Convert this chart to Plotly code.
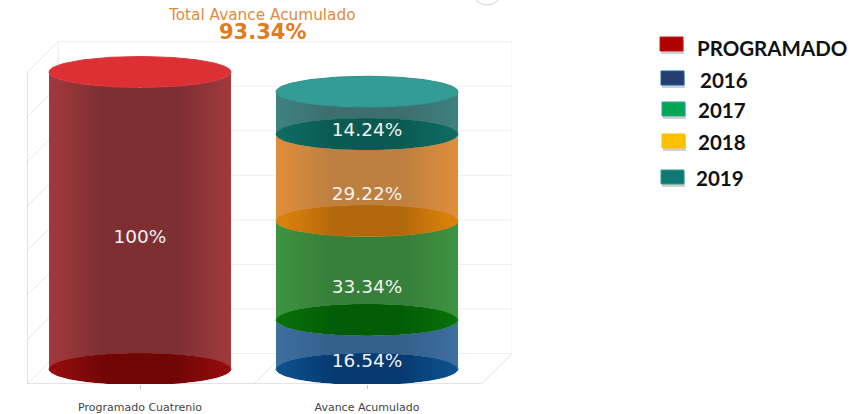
import numpy as np
import plotly.graph_objects as go

# ---- data ----
categories = ["Programado Cuatrenio", "Avance Acumulado"]
total_label = "Total Avance Acumulado"
total_value = "93.34%"
programado = [100.0]
avance_years = ["2016", "2017", "2018", "2019"]
avance_values = [16.54, 33.34, 29.22, 14.24]
avance_labels = ["16.54%", "33.34%", "29.22%", "14.24%"]
grid_values = [0, 15, 30, 45, 60, 75, 90, 105]
legend_names = ["PROGRAMADO", "2016", "2017", "2018", "2019"]
legend_fill = ["#B00000", "#243F6B", "#00A651", "#FFC000", "#0F7872"]
legend_edge = ["#C21A1A", "#0E62B8", "#2FA59A", "#FFC000", "#2F9A94"]

# ---- styles / geometry ----
PX_L, PX_R, PX_T, PX_B = 27, 512, 39, 384
W, H = 863, 414
CX0, UNIT_X, Y0, UNIT_Y = 140.0, 227.0, 369.0, 2.97
xr = [(PX_L - CX0) / UNIT_X, (PX_R - CX0) / UNIT_X]
yr = [(Y0 - PX_B) / UNIT_Y, (Y0 - PX_T) / UNIT_Y]
RX = 91.0 / UNIT_X
RY = 15.5 / UNIT_Y
DX, DY = 15.5 / UNIT_X, 15.5 / UNIT_Y
LABEL_DROP = 18.0 / UNIT_Y


def hex2rgb(c):
    return np.array([int(c[i:i + 2], 16) for i in (1, 3, 5)], float)


def mix(a, b, t):
    v = hex2rgb(a) * (1 - t) + hex2rgb(b) * t
    return "rgb(%d,%d,%d)" % tuple(v.round())


def shade(center, edge, t, flat=0.42):
    k = np.clip((abs(t) - flat) / (1 - flat), 0, 1)
    return mix(center, edge, k)


def body(cx, bottom, value, center, edge):
    n = 182
    edges = np.linspace(-1, 1, n + 1)
    t = (edges[:-1] + edges[1:]) / 2
    arc = RY * np.sqrt(1 - t ** 2)
    return go.Bar(
        x=cx + t * RX, y=[value] * n, base=bottom - arc,
        width=[2 * RX / n] * n,
        marker=dict(color=[shade(center, edge, v) for v in t], line=dict(width=0)),
        hoverinfo="skip", showlegend=False, cliponaxis=False,
    )


def ellipse(cx, level, center, edge, outline):
    traces = []
    th = np.linspace(0, 2 * np.pi, 181)
    traces.append(go.Scatter(
        x=cx + RX * np.cos(th), y=level + RY * np.sin(th), mode="lines", fill="toself",
        fillcolor=edge, line=dict(color=outline, width=1), hoverinfo="skip",
        showlegend=False, cliponaxis=False))
    if center != edge:
        for k in np.linspace(0.92, 0.38, 14):
            u = np.linspace(-k, k, 61)
            a = RY * np.sqrt(1 - u ** 2) * 0.985
            col = mix(center, edge, (k - 0.38) / 0.54)
            traces.append(go.Scatter(
                x=np.r_[cx + u * RX, cx + u[::-1] * RX],
                y=np.r_[level + a, level - a[::-1]],
                mode="lines", fill="toself", fillcolor=col, line=dict(width=0),
                hoverinfo="skip", showlegend=False, cliponaxis=False))
    return traces


fig = go.Figure()

# Programado cylinder
fig.add_trace(body(0, 0, programado[0], "#7D2F32", "#A23A3E"))
for tr in ellipse(0, 0, "#700606", "#900C0C", "#A82020"):
    fig.add_trace(tr)
for tr in ellipse(0, programado[0], "#DC3035", "#DC3035", "#D83A3E"):
    fig.add_trace(tr)

# Avance cylinder
seg_body = [("#34608C", "#3F6F9F"), ("#37803A", "#3C9440"), ("#BE8040", "#E28E3A"), ("#3D6F6E", "#3E8280")]
seg_floor = [("#063A70", "#0C4F8A", "#2F6F9F"), ("#045C08", "#067006", "#3A8F3A"),
             ("#B3680E", "#D9800A", "#D98A2A"), ("#0A5A52", "#0F6A62", "#1F7A72")]
cum = 0.0
for val, bc in zip(avance_values, seg_body):
    fig.add_trace(body(1, cum, val, bc[0], bc[1]))
    cum += val
cum = 0.0
for val, fc in zip(avance_values, seg_floor):
    for tr in ellipse(1, cum, fc[0], fc[1], fc[2]):
        fig.add_trace(tr)
    cum += val
for tr in ellipse(1, cum, "#339C95", "#339C95", "#2F8F88"):
    fig.add_trace(tr)

# value labels
lx, ly, lt = [0], [programado[0] / 2 - LABEL_DROP], ["100%"]
cum = 0.0
for val, lab in zip(avance_values, avance_labels):
    lx.append(1); ly.append(cum + val / 2 - LABEL_DROP); lt.append(lab)
    cum += val
fig.add_trace(go.Scatter(x=lx, y=ly, text=lt, mode="text", textposition="middle center",
                         textfont=dict(family="DejaVu Sans", size=18.5, color="#F2F2F2"),
                         hoverinfo="skip", showlegend=False, cliponaxis=False))

# 3D frame
shapes = []
GRID, AXIS = "#EEEEEE", "#C9C9C9"


def seg(x0, y0, x1, y1, color=GRID, width=1):
    shapes.append(dict(type="line", xref="x", yref="y", x0=x0, y0=y0, x1=x1, y1=y1,
                       layer="below", line=dict(color=color, width=width)))


xf0, xf1 = xr[0], xr[1] - 2 * DX
for g in grid_values:
    seg(xf0 + 2 * DX, g + DY, xr[1], g + DY)
    seg(xf0, g - DY, xf0 + 2 * DX, g + DY, "#E6E6E6")
seg(xf0 + 2 * DX, grid_values[0] + DY, xf0 + 2 * DX, grid_values[-1] + DY, "#E6E6E6")
seg(xr[1], grid_values[0] + DY, xr[1], grid_values[-1] + DY)
seg(0.5, -DY, 0.5 + 2 * DX, DY, "#E6E6E6")
seg(xf1, -DY, xr[1], DY, "#E0E0E0")
seg(xf0, -DY, xf0, grid_values[-1] - DY, AXIS)
seg(xf0, -DY, xf1, -DY, AXIS, 2)


def px(x):
    return (x - PX_L) / (PX_R - PX_L)


def py(y):
    return (PX_B - y) / (PX_B - PX_T)


def box(x0, y0, x1, y1, fill, line=None, lw=0):
    shapes.append(dict(type="rect", xref="paper", yref="paper", x0=px(x0), x1=px(x1),
                       y0=py(y1), y1=py(y0), fillcolor=fill, layer="above",
                       line=dict(color=line or fill, width=lw)))


annotations = []


def text(x, y, s, size, color, family, anchor="left"):
    annotations.append(dict(xref="paper", yref="paper", x=px(x), y=py(y), text=s, showarrow=False,
                            xanchor=anchor, yanchor="middle", font=dict(size=size, color=color, family=family),
                            borderpad=0))


text(262, 15, total_label, 15.3, "#E28A3C", "DejaVu Sans", "center")
text(262, 32, "<b>%s</b>" % total_value, 21, "#E27A1E", "DejaVu Sans", "center")

# Legend
leg_pos = [(660, 37, 696, 48), (661, 71, 699, 80), (662, 102, 697, 110), (662, 134, 697, 142), (661, 170, 695, 178)]
for name, fill, edge, (x0, y0, tx, ty) in zip(legend_names, legend_fill, legend_edge, leg_pos):
    box(x0 + 1, y0 + 3, x0 + 24, y0 + 17, "rgba(120,120,120,0.35)")
    box(x0, y0, x0 + 23, y0 + 14, fill, edge, 1)
    text(tx, ty, "<b>%s</b>" % name, 20.5, "#111111", "Lato")

# Corner button fragment
shapes.append(dict(type="circle", xref="paper", yref="paper", x0=px(472), x1=px(502), y0=py(5), y1=py(-25),
                   fillcolor="white", line=dict(color="#CFCFCF", width=1), layer="above"))

fig.update_layout(
    width=W, height=H, autosize=False, barmode="overlay", bargap=0,
    margin=dict(l=PX_L, r=W - PX_R, t=PX_T, b=H - PX_B, pad=0, autoexpand=False),
    paper_bgcolor="white", plot_bgcolor="white", showlegend=False,
    shapes=shapes, annotations=annotations,
    xaxis=dict(range=xr, tickmode="array", tickvals=[0, 1], ticktext=categories, showgrid=False,
               zeroline=False, showline=False, ticks="outside", ticklen=4, tickcolor=AXIS,
               ticklabelstandoff=9, automargin=False,
               tickfont=dict(family="DejaVu Sans", size=11, color="#444444"), fixedrange=True),
    yaxis=dict(range=yr, showticklabels=False, showgrid=False, zeroline=False, showline=False,
               ticks="", automargin=False, fixedrange=True),
)
fig.write_html("out.html", config={"displayModeBar": False},
               post_script="document.body.style.margin='0';document.body.style.overflow='hidden';")
